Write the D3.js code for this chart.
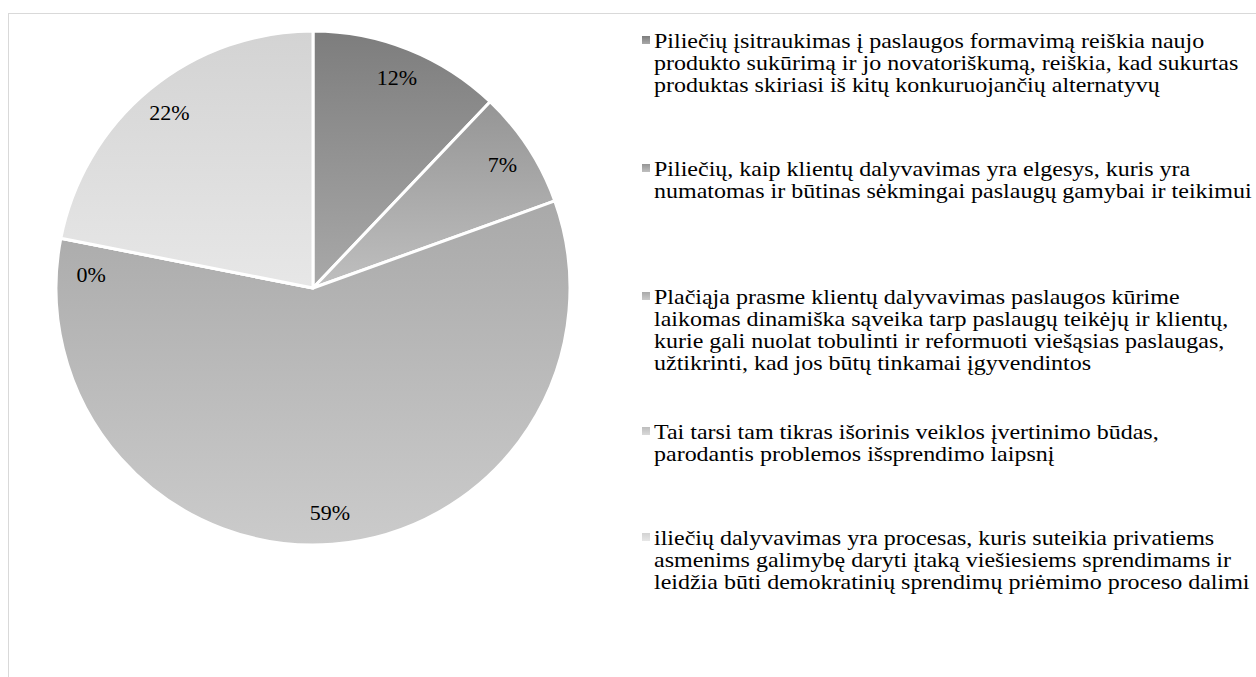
<!DOCTYPE html>
<html>
<head>
<meta charset="utf-8">
<script src="https://cdn.jsdelivr.net/npm/d3@7"></script>
<style>
  html, body { margin: 0; padding: 0; background: #fff; }
  svg { display: block; }
  text { font-family: "Liberation Serif", "Times New Roman", Times, serif; font-size: 20px; }
</style>
</head>
<body>
<svg id="chart"></svg>
<script>
// slice shares (labels show rounded values)
const shares = [12.1, 7.4, 58.6, 0, 21.9];
const shareLabels = ["12%", "7%", "59%", "0%", "22%"];
const categories = [
    "Piliečių įsitraukimas į paslaugos formavimą reiškia naujo\nprodukto sukūrimą ir jo novatoriškumą, reiškia, kad sukurtas\nproduktas skiriasi iš kitų konkuruojančių alternatyvų",
    "Piliečių, kaip klientų dalyvavimas yra elgesys, kuris yra\nnumatomas ir būtinas sėkmingai paslaugų gamybai ir teikimui",
    "Plačiąja prasme klientų dalyvavimas paslaugos kūrime\nlaikomas dinamiška sąveika tarp paslaugų teikėjų ir klientų,\nkurie gali nuolat tobulinti ir reformuoti viešąsias paslaugas,\nužtikrinti, kad jos būtų tinkamai įgyvendintos",
    "Tai tarsi tam tikras išorinis veiklos įvertinimo būdas,\nparodantis problemos išsprendimo laipsnį",
    "iliečių dalyvavimas yra procesas, kuris suteikia privatiems\nasmenims galimybę daryti įtaką viešiesiems sprendimams ir\nleidžia būti demokratinių sprendimų priėmimo proceso dalimi"
];
// gradient stops (top, bottom) per slice
const gradTop = ["#7d7d7d", "#959595", "#a9a9a9", "#bdbdbd", "#d3d3d3"];
const gradBottom = ["#a9a9a9", "#bfbfbf", "#cbcbcb", "#d9d9d9", "#e7e7e7"];

const W = 1256, H = 677;
const cx = 313, cy = 288, radius = 257;
const lineH = 22.3;
const stretch = 1.2;     // the source picture is stretched sideways
const legendX = 642;
const legendBase = [47.5, 175.5, 303.5, 438.5, 544.5];

const svg = d3.select("#chart")
    .attr("width", W)
    .attr("height", H);

const defs = svg.append("defs");
shares.forEach((d, i) => {
    const g = defs.append("linearGradient")
        .attr("id", "grad" + i)
        .attr("x1", 0).attr("y1", 0)
        .attr("x2", 0).attr("y2", 1);
    g.append("stop").attr("offset", "0%").attr("stop-color", gradTop[i]);
    g.append("stop").attr("offset", "100%").attr("stop-color", gradBottom[i]);
});

// chart area border (runs off the right and bottom of the picture)
svg.append("rect")
    .attr("x", 8.5).attr("y", 13.5)
    .attr("width", W + 20).attr("height", H + 20)
    .attr("fill", "none")
    .attr("stroke", "#d9d9d9")
    .attr("stroke-width", 1);

const pie = d3.pie().sort(null).value(d => d);
const arcs = pie(shares);

const arc = d3.arc().innerRadius(0).outerRadius(radius);
const labelArc = d3.arc().innerRadius(226).outerRadius(226);

const g = svg.append("g").attr("transform", `translate(${cx},${cy})`);

g.selectAll("path.slice")
    .data(arcs)
    .enter()
    .append("path")
    .attr("class", "slice")
    .attr("d", arc)
    .attr("fill", (d, i) => `url(#grad${i})`)
    .attr("stroke", "#fff")
    .attr("stroke-width", 3)
    .attr("stroke-linejoin", "round");

g.selectAll("text.pct")
    .data(arcs)
    .enter()
    .append("text")
    .attr("class", "pct")
    .attr("transform", d => `translate(${labelArc.centroid(d)}) scale(1.1,1)`)
    .attr("text-anchor", "middle")
    .attr("dy", d => d.value === 0 ? "1.9em" : "0.35em")
    .attr("fill", "#000")
    .text((d, i) => shareLabels[i]);

// legend
const legend = svg.selectAll(".legend")
    .data(categories)
    .enter()
    .append("g")
    .attr("class", "legend")
    .attr("transform", (d, i) => `translate(${legendX},${legendBase[i]})`);

legend.append("rect")
    .attr("x", 0)
    .attr("y", -11.5)
    .attr("width", 8)
    .attr("height", 8)
    .attr("fill", (d, i) => `url(#grad${i})`);

legend.append("text")
    .attr("transform", `translate(12,0) scale(${stretch},1)`)
    .attr("fill", "#000")
    .selectAll("tspan")
    .data(d => d.split("\n"))
    .enter()
    .append("tspan")
    .attr("x", 0)
    .attr("y", (d, j) => j * lineH)
    .text(d => d);
</script>
</body>
</html>
